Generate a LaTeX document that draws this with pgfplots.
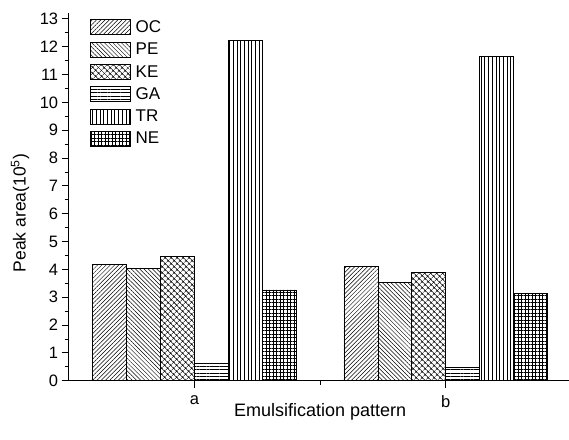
\documentclass[border=0pt]{standalone}
\usepackage{pgfplots}
\pgfplotsset{compat=1.18}
\usetikzlibrary{patterns.meta}
\usepackage{fontspec}
\setmainfont{Liberation Sans}
\begin{document}
\begin{tikzpicture}
\begin{axis}[
  name=ax,
  scale only axis,
  width=500.3pt, height=367.4pt,
  xmin=-0.5, xmax=1.49,
  ymin=0, ymax=13.2,
  axis lines=left,
  axis line style={-, line width=1pt},
  ybar=0pt,
  bar width=0.135,
  xtick={0,1}, xticklabels={a,b},
  minor xtick={0.5},
  ytick={0,1,...,13},
  minor y tick num=1,
  tick align=outside,
  major tick length=7pt, minor tick length=4pt,
  tick style={line width=0.8pt, black},
  ticklabel style={font=\fontsize{16.5}{18}\selectfont},
  xticklabel style={yshift=-4pt},
  /pgf/number format/assume math mode=true,
  xlabel={Emulsification pattern},
  ylabel={Peak area(10\textsuperscript{5})},
  every axis x label/.style={at={(axis cs:0.5,0)}, yshift=-31pt, anchor=center, font=\fontsize{18}{20}\selectfont},
  every axis y label/.style={at={(rel axis cs:0,0.456)}, xshift=-48.7pt, rotate=90, anchor=center, font=\fontsize{17.5}{20}\selectfont},
  legend style={draw=none, fill=none, at={(rel axis cs:0,1)}, anchor=north west,
    xshift=21pt, yshift=-6pt, font=\fontsize{17}{18}\selectfont, row sep=6.5pt,
    inner sep=0pt, nodes={inner sep=0pt},
    /tikz/every odd column/.append style={column sep=5pt}},
  legend cell align=left,
  legend image code/.code={\draw[#1, line width=0.8pt] (0pt,-7.5pt) rectangle (40pt,7.5pt);},
  every axis plot/.append style={draw=black, line width=0.8pt},
]
\addplot[pattern={Lines[angle=45,distance=3pt,line width=0.5pt]}] coordinates {(0,4.19) (1,4.11)};
\addplot[pattern={Lines[angle=-45,distance=3pt,line width=0.5pt]}] coordinates {(0,4.02) (1,3.54)};
\addplot[pattern={Hatch[angle=45,distance=4pt,line width=0.5pt]}] coordinates {(0,4.45) (1,3.90)};
\addplot[pattern={Lines[angle=0,distance=3.3pt,line width=0.5pt]}] coordinates {(0,0.63) (1,0.48)};
\addplot[pattern={Lines[angle=90,distance=3.7pt,line width=0.5pt]}] coordinates {(0,12.22) (1,11.65)};
\addplot[pattern={Hatch[angle=0,distance=3.5pt,line width=0.5pt]}] coordinates {(0,3.26) (1,3.14)};
\legend{OC,PE,KE,GA,TR,NE}
\end{axis}
\pgfresetboundingbox
\path (ax.south west) ++(-68.7pt,-58.3pt) rectangle ++(569pt,439pt);
\end{tikzpicture}
\end{document}
